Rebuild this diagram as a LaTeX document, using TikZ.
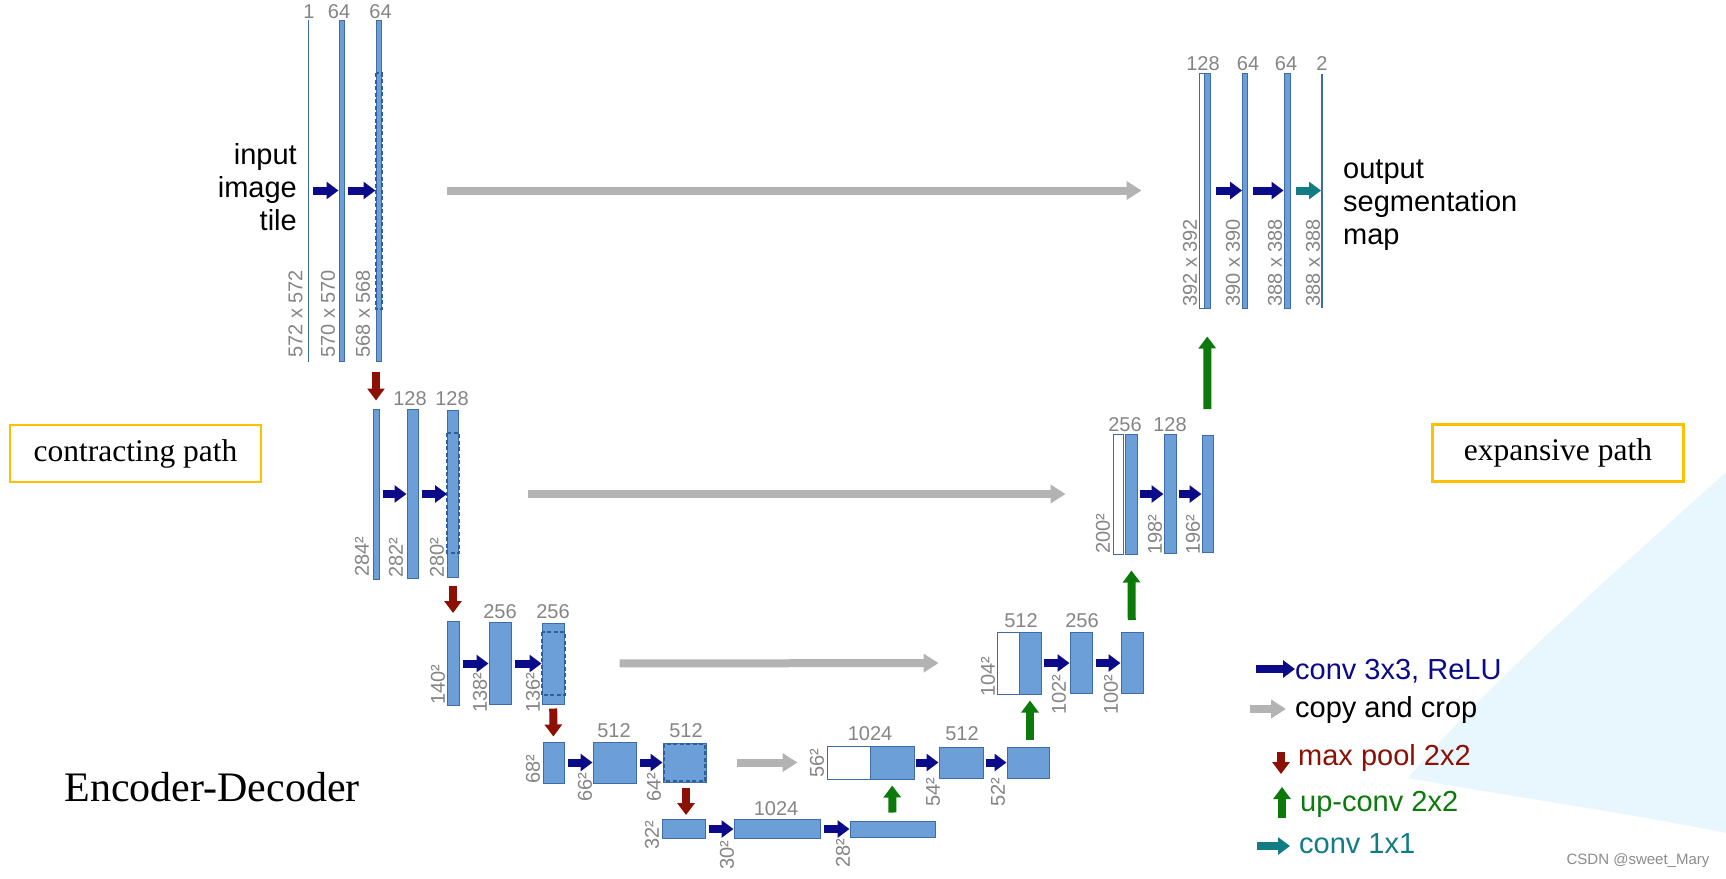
\documentclass[tikz,border=0pt]{standalone}
\usepackage{fontspec}
\setmainfont{Liberation Sans}
\newfontfamily\serifbox{Liberation Serif}
\usetikzlibrary{arrows.meta}
\definecolor{clrBar}   {HTML}{6C9FD8}
\definecolor{clrEdge}  {HTML}{3D6CA8}
\definecolor{clrDash}  {HTML}{2F5E9C}
\definecolor{clrConv}  {HTML}{0B0B8A}
\definecolor{clrCopy}  {HTML}{B3B3B3}
\definecolor{clrPool}  {HTML}{8C1004}
\definecolor{clrUp}    {HTML}{0B7A0B}
\definecolor{clrOut}   {HTML}{127C84}
\definecolor{clrDim}   {HTML}{858585}
\definecolor{clrFrame} {HTML}{FFC000}
\definecolor{clrSky}   {HTML}{E8F6FD}
\tikzset{
  bar/.style 2 args = {
    rectangle, draw=clrEdge, fill=clrBar, line width=1pt,
    inner sep=0pt, minimum width=#1, minimum height=#2,
  },
  cropbar/.style 2 args = {bar={#1}{#2}, fill=white},
  featline/.style = {rectangle, fill=clrEdge, inner sep=0pt,
                     minimum width=1.6pt, minimum height=#1},
  cropmark/.style = {draw=clrDash, line width=2pt,
                     dash pattern=on 4pt off 2.5pt},
  conv/.style    = {-{Triangle[length=12pt, width=17pt]}, line width=8pt,
                    color=clrConv, shorten <=3pt},
  outconv/.style = {conv, color=clrOut},
  copyarr/.style = {-{Triangle[length=15pt, width=18pt]}, line width=8pt,
                    color=clrCopy},
  pool/.style    = {-{Triangle[length=12pt, width=17pt]}, line width=8pt,
                    color=clrPool},
  upconv/.style  = {pool, color=clrUp},
  dim/.style     = {font=\fontsize{20}{20}\selectfont, text=clrDim,
                    inner sep=0pt, anchor=base},
  vdim/.style    = {font=\fontsize{20}{20}\selectfont, text=clrDim,
                    inner sep=0pt, rotate=90, anchor=west},
  bigtxt/.style  = {font=\fontsize{29}{33}\selectfont, inner sep=0pt},
  pathbox/.style = {draw=clrFrame, line width=2.5pt, minimum width=251pt,
                    minimum height=57pt,
                    font=\serifbox\fontsize{31.5}{36}\selectfont},
}

\begin{document}
\begin{tikzpicture}[x=1pt, y=-1pt]

\useasboundingbox (0,0) rectangle (1726,878);
\fill[white] (0,0) rectangle (1726,878);

% light backdrop, lower right
\fill[clrSky] (1726,472) .. controls (1630,560) and (1500,670) .. (1408,778)
              .. controls (1520,798) and (1640,815) .. (1726,833) -- cycle;

% ══════════════════════════════════════════════════════════════════════════
%  CONTRACTING PATH
% ══════════════════════════════════════════════════════════════════════════

\node[featline=342pt]       (in1) at (308.5,190.5) {};
\node[bar={5pt}{341pt}]     (c1a) at (341.5,190.5) {};
\node[bar={5pt}{341pt}]     (c1b) at (378.5,190.5) {};

\node[bar={6pt}{170pt}]     (c2a) at (376,494) {};
\node[bar={11pt}{169pt}]    (c2b) at (412.5,494) {};
\node[bar={11pt}{167pt}]    (c2c) at (453,494) {};

\node[bar={12pt}{84pt}]     (c3a) at (453,663.5) {};
\node[bar={22pt}{82pt}]     (c3b) at (500,663.5) {};
\node[bar={22pt}{81pt}]     (c3c) at (553,663.5) {};

\node[bar={21pt}{41pt}]     (c4a) at (553.5,762.5) {};
\node[bar={43pt}{41pt}]     (c4b) at (614.5,762.5) {};
\node[bar={43pt}{39pt}]     (c4c) at (684.5,762.5) {};

\node[bar={43pt}{19pt}]     (c5a) at (683.5,829) {};
\node[bar={86pt}{19pt}]     (c5b) at (777,829) {};
\node[bar={85pt}{16pt}]     (c5c) at (892.5,829) {};

% crop regions
\draw[cropmark] (c1b.west |- 0,73)  rectangle (c1b.east |- 0,309);
\draw[cropmark] (c2c.west |- 0,433) rectangle (c2c.east |- 0,553);
\draw[cropmark] (c3c.west |- 0,632) rectangle (c3c.east |- 0,695);
\draw[cropmark] ([xshift=1.5pt, yshift=-1.5pt]c4c.north west)
                rectangle ([xshift=-1.5pt, yshift=1.5pt]c4c.south east);

% ══════════════════════════════════════════════════════════════════════════
%  EXPANSIVE PATH
% ══════════════════════════════════════════════════════════════════════════

\node[cropbar={43pt}{33pt}] (e4w) at (848.5,762.5) {};
\node[bar={44pt}{33pt}]     (e4a) at (892,762.5) {};
\node[bar={44pt}{31pt}]     (e4b) at (961,762.5) {};
\node[bar={42pt}{31pt}]     (e4c) at (1028,762.5) {};

\node[cropbar={22pt}{62pt}] (e3w) at (1008,663) {};
\node[bar={22pt}{62pt}]     (e3a) at (1030,663) {};
\node[bar={22pt}{61pt}]     (e3b) at (1081,663) {};
\node[bar={22pt}{61pt}]     (e3c) at (1132,663) {};

\node[cropbar={10pt}{120pt}] (e2w) at (1118,494) {};
\node[bar={12pt}{120pt}]     (e2a) at (1131,494) {};
\node[bar={12pt}{119pt}]     (e2b) at (1170,494) {};
\node[bar={11pt}{117pt}]     (e2c) at (1207.5,494) {};

\node[cropbar={5pt}{235pt}] (e1w) at (1201.5,190.5) {};
\node[bar={6pt}{235pt}]     (e1a) at (1207,190.5) {};
\node[bar={5pt}{235pt}]     (e1b) at (1245,190.5) {};
\node[bar={6pt}{235pt}]     (e1c) at (1287,190.5) {};
\node[featline=234pt]       (out1) at (1322,190.5) {};

% ══════════════════════════════════════════════════════════════════════════
%  Channel counts and sizes
% ══════════════════════════════════════════════════════════════════════════

\node[dim] (n1a) at (309,18)   {1};
\node[dim] (n1b) at (339,18)   {64};
\node[dim] (n1c) at (380.5,18) {64};
\node[dim] (n2b) at (410,405)  {128};
\node[dim] (n2c) at (452,405)  {128};
\node[dim] (n3b) at (500,618)  {256};
\node[dim] (n3c) at (553,618)  {256};
\node[dim] (n4b) at (614,737)  {512};
\node[dim] (n4c) at (686,737)  {512};
\node[dim] (n5b) at (776,815)  {1024};
\node[dim] (m4a) at (870,740)  {1024};
\node[dim] (m4b) at (962,740)  {512};
\node[dim] (m3a) at (1021,627) {512};
\node[dim] (m3b) at (1082,627) {256};
\node[dim] (m2a) at (1125,431) {256};
\node[dim] (m2b) at (1170,431) {128};
\node[dim] (m1a) at (1203,70)  {128};
\node[dim] (m1b) at (1248,70)  {64};
\node[dim] (m1c) at (1286,70)  {64};
\node[dim] (m1d) at (1322,70)  {2};

\node[vdim] (s1a) at (295.5,358) {572 x 572};
\node[vdim] (s1b) at (328,358)   {570 x 570};
\node[vdim] (s1c) at (363,358)   {568 x 568};
\node[vdim] (s2a) at (362,577)   {284²};
\node[vdim] (s2b) at (396,578)   {282²};
\node[vdim] (s2c) at (437,578)   {280²};
\node[vdim] (s3a) at (438,705)   {140²};
\node[vdim] (s3b) at (480,713)   {138²};
\node[vdim] (s3c) at (533,713)   {136²};
\node[vdim] (s4a) at (533,784)   {68²};
\node[vdim] (s4b) at (585,802)   {66²};
\node[vdim] (s4c) at (654,802)   {64²};
\node[vdim] (s5a) at (652,850)   {32²};
\node[vdim] (s5b) at (727,870)   {30²};
\node[vdim] (s5c) at (843,868)   {28²};
\node[vdim] (t4a) at (817,778)   {56²};
\node[vdim] (t4b) at (933,807)   {54²};
\node[vdim] (t4c) at (998,807)   {52²};
\node[vdim] (t3a) at (988,697)   {104²};
\node[vdim] (t3b) at (1059,715)  {102²};
\node[vdim] (t3c) at (1111,715)  {100²};
\node[vdim] (t2a) at (1103,554)  {200²};
\node[vdim] (t2b) at (1155,555)  {198²};
\node[vdim] (t2c) at (1193,555)  {196²};
\node[vdim] (t1a) at (1190,307)  {392 x 392};
\node[vdim] (t1b) at (1233,307)  {390 x 390};
\node[vdim] (t1c) at (1275,307)  {388 x 388};
\node[vdim] (t1d) at (1313,307)  {388 x 388};

% ══════════════════════════════════════════════════════════════════════════
%  Arrows
% ══════════════════════════════════════════════════════════════════════════

% conv 3x3
\draw[conv] (in1) -- (c1a);
\draw[conv] (c1a) -- (c1b);
\draw[conv] (c2a) -- (c2b);
\draw[conv] (c2b) -- (c2c);
\draw[conv] (c3a) -- (c3b);
\draw[conv] (c3b) -- (c3c);
\draw[conv] (c4a) -- (c4b);
\draw[conv] (c4b) -- (c4c);
\draw[conv] (c5a) -- (c5b);
\draw[conv] (c5b) -- (c5c);
\draw[conv, shorten <=1pt] (e4a) -- (e4b);
\draw[conv, shorten <=2pt] (e4b) -- (e4c);
\draw[conv, shorten <=2pt] (e3a) -- (e3b);
\draw[conv] (e3b) -- (e3c);
\draw[conv, shorten <=2pt] (e2a) -- (e2b);
\draw[conv, shorten <=2pt] (e2b) -- (e2c);
\draw[conv, shorten <=5pt] (e1a) -- (e1b);
\draw[conv, shorten <=5pt] (e1b) -- (e1c);
\draw[outconv, shorten <=5pt] (e1c) -- (out1);

% copy and crop
\draw[copyarr, shorten <=65pt, shorten >=57pt] (c1b) -- (e1w);
\draw[copyarr, shorten <=69pt, shorten >=47pt] (c2c) -- (e2w);
\draw[copyarr, shorten <=55pt, shorten >=58pt] (c3c) -- (e3w);
\draw[copyarr, shorten <=30pt, shorten >=29pt] (c4c) -- (e4w);

% max pool
\draw[pool, shorten <=10pt, shorten >=8pt] (c1b.south -| c2a.north) -- (c2a.north);
\draw[pool, shorten <=8pt,  shorten >=8pt] (c2c) -- (c3a);
\draw[pool, shorten <=4pt,  shorten >=5pt] (c3c) -- (c4a);
\draw[pool, shorten <=5pt,  shorten >=4pt] (c4c.south -| 686,0) -- (c5a.north -| 686,0);

% up-conv
\draw[upconv, shorten <=8pt,  shorten >=6pt]  (c5c) -- (e4a);
\draw[upconv, shorten <=7pt,  shorten >=6pt]  (e4c.north -| e3a.south) -- (e3a.south);
\draw[upconv, shorten <=12pt, shorten >=16pt] (e3c) -- (e2a);
\draw[upconv, shorten <=26pt, shorten >=28pt] (e2c) -- (e1a);

% ══════════════════════════════════════════════════════════════════════════
%  Texts
% ══════════════════════════════════════════════════════════════════════════

\node[bigtxt, align=right, anchor=east] (intxt) at (297,187)
  {input\\image\\tile};
\node[bigtxt, align=left, anchor=west] (outtxt) at (1343,205)
  {output\\segmentation\\map};

\node[pathbox] (cpath) at (135.5,453.5) {contracting path};
\node[pathbox] (epath) at (1558,453)    {expansive path};

\node[font=\serifbox\fontsize{42}{46}\selectfont, inner sep=0pt]
  (encdec) at (212,787) {Encoder-Decoder};

% ══════════════════════════════════════════════════════════════════════════
%  Legend
% ══════════════════════════════════════════════════════════════════════════

\node[bigtxt, anchor=base west, text=clrConv] (lg1) at (1295,679) {conv 3x3, ReLU};
\node[bigtxt, anchor=base west]               (lg2) at (1295,717) {copy and crop};
\node[bigtxt, anchor=base west, text=clrPool] (lg3) at (1298,765) {max pool 2x2};
\node[bigtxt, anchor=base west, text=clrUp]   (lg4) at (1300,811) {up-conv 2x2};
\node[bigtxt, anchor=base west, text=clrOut]  (lg5) at (1299,853) {conv 1x1};

\coordinate (a1) at (1256,669);
\coordinate (a2) at (1250,709);
\coordinate (a3) at (1281,752);
\coordinate (a4) at (1282,818);
\coordinate (a5) at (1257,846);
\draw[conv, shorten <=0pt] (a1) -- (a1 -| lg1.west);
\draw[copyarr]             (a2) -- ++(36,0);
\draw[pool]                (a3) -- ++(0,22);
\draw[upconv]              (a4) -- ++(0,-31);
\draw[outconv, shorten <=0pt] (a5) -- ++(33,0);

\node[font=\fontsize{15}{15}\selectfont, text=black!45, inner sep=0pt]
  (credit) at (1638,861) {CSDN @sweet\_Mary};

\end{tikzpicture}
\end{document}
